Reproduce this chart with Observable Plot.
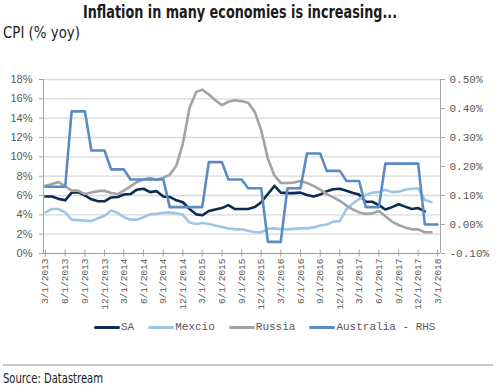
<!DOCTYPE html>
<html><head><meta charset="utf-8">
<script src="https://cdn.jsdelivr.net/npm/d3@7"></script>
<script src="https://cdn.jsdelivr.net/npm/@observablehq/plot@0.6"></script>
<style>
body{margin:0;background:#fff;width:496px;height:388px;position:relative;overflow:hidden;font-family:"Liberation Sans",Arial,sans-serif}
#chart{position:absolute;left:0;top:0}
.fit{position:absolute;white-space:nowrap;transform-origin:0 0;z-index:2;color:#1c1c1c}
#title{top:1px;font:bold 18px "Liberation Sans Narrow","DejaVu Sans Condensed",sans-serif}
#ylab{left:3px;top:24px;font:15.5px "Liberation Sans Narrow","DejaVu Sans Condensed",sans-serif}
#legend{position:absolute;left:94px;top:321px;display:flex;font:11px "Liberation Mono","DejaVu Sans Mono",monospace;color:#595959;z-index:2}
.item{display:flex;align-items:center;margin-right:14px}
.sw{width:26px;height:3px;border-radius:2px;margin-right:1px}
#sep{position:absolute;left:3px;width:490px;top:364px;height:0;border-top:2px solid #c8c8c8}
#source{left:3px;top:370px;font:14.5px "Liberation Sans Narrow","DejaVu Sans Condensed",sans-serif}
</style></head>
<body>
<div id="title" class="fit">Inflation in many economies is increasing...</div>
<div id="ylab" class="fit">CPI (% yoy)</div>
<div id="chart"></div>
<div id="legend"></div>
<div id="sep"></div>
<div id="source" class="fit">Source: Datastream</div>
<script>
// Monthly observations, starting March 2013
const startMonth = "3/1/2013";
const seriesNames = ["SA", "Mexcio", "Russia", "Australia - RHS"];
const colors = ["#0b2b52", "#9fc5e8", "#a3a3a3", "#5b8bc6"];

const sa = [5.9,5.9,5.65,5.5,6.3,6.35,6.0,5.6,5.4,5.4,
  5.8,5.85,6.1,6.15,6.6,6.7,6.35,6.45,5.9,5.85,
  5.5,5.3,4.6,4.05,3.95,4.4,4.55,4.7,5.0,4.6,
  4.6,4.6,4.8,5.3,6.15,7.0,6.3,6.25,6.25,6.3,
  6.05,5.9,6.1,6.45,6.65,6.7,6.5,6.25,6.1,5.35,
  5.35,5.0,4.55,4.8,5.1,4.85,4.6,4.7,4.35];
const mexico = [4.25,4.6,4.6,4.25,3.5,3.45,3.4,3.35,3.65,3.9,
  4.45,4.2,3.75,3.5,3.5,3.75,4.05,4.1,4.2,4.25,
  4.15,4.0,3.2,3.05,3.15,3.05,2.9,2.75,2.6,2.5,
  2.5,2.35,2.2,2.2,2.55,2.6,2.5,2.5,2.55,2.6,
  2.6,2.7,2.9,3.0,3.3,3.35,4.6,5.2,5.65,6.05,
  6.3,6.35,6.6,6.35,6.4,6.6,6.7,6.75,5.55,5.3];
const russia = [7.0,7.2,7.4,6.95,6.5,6.5,6.15,6.3,6.45,6.5,
  6.25,6.15,6.5,6.95,7.4,7.65,7.8,7.6,7.85,8.15,
  9.1,11.35,15.05,16.7,16.95,16.45,15.85,15.35,15.7,15.85,
  15.75,15.6,14.65,12.75,9.8,8.05,7.3,7.3,7.35,7.5,
  7.3,7.0,6.6,6.15,5.8,5.45,4.95,4.55,4.25,4.1,
  4.15,4.4,3.85,3.3,2.95,2.7,2.5,2.5,2.2,2.2];
// right-hand scale (%)
const australia = [0.13,0.13,0.13,0.13,0.39,0.39,0.39,0.255,0.255,0.255,
  0.19,0.19,0.19,0.155,0.155,0.155,0.155,0.155,0.155,0.06,
  0.06,0.06,0.06,0.06,0.06,0.215,0.215,0.215,0.155,0.155,
  0.155,0.125,0.125,0.125,-0.06,-0.06,-0.06,0.125,0.125,0.125,
  0.245,0.245,0.245,0.185,0.185,0.185,0.15,0.15,0.15,0.06,
  0.06,0.06,0.21,0.21,0.21,0.21,0.21,0.21,0.0,0.0,0.0];

const xTickLabels = ["3/1/2013","6/1/2013","9/1/2013","12/1/2013","3/1/2014","6/1/2014","9/1/2014","12/1/2014",
  "3/1/2015","6/1/2015","9/1/2015","12/1/2015","3/1/2016","6/1/2016","9/1/2016","12/1/2016",
  "3/1/2017","6/1/2017","9/1/2017","12/1/2017","3/1/2018"];
const leftTicks = [0,2,4,6,8,10,12,14,16,18];
const leftLabels = ["0%","2%","4%","6%","8%","10%","12%","14%","16%","18%"];
const rightTicks = [-0.1,0,0.1,0.2,0.3,0.4,0.5];
const rightLabels = ["-0.10%","0.00%","0.10%","0.20%","0.30%","0.40%","0.50%"];

const parse = s => { const [m,d,y] = s.split("/").map(Number); return new Date(Date.UTC(y, m-1, d)); };
const t0 = parse(startMonth);
const monthAt = i => new Date(Date.UTC(t0.getUTCFullYear(), t0.getUTCMonth() + i, 1));
// right axis (-0.1..0.5) mapped onto left axis (0..18)
const toLeft = v => (v - rightTicks[0]) / (rightTicks[rightTicks.length-1] - rightTicks[0]) * 18;

const rows = [];
[sa, mexico, russia].forEach((arr, k) => arr.forEach((v, i) => rows.push({date: monthAt(i), value: v, series: seriesNames[k]})));
australia.forEach((v, i) => rows.push({date: monthAt(i), value: toLeft(v), series: seriesNames[3]}));

const xTicks = xTickLabels.map(parse);
const rightTicksLeft = rightTicks.map(toLeft);
const axisColor = "#a6a6a6";
const labelColor = "#595959";
const xDomain = [new Date(Date.UTC(2013,1,20)), new Date(Date.UTC(2018,2,15))];

const plot = Plot.plot({
  width: 496, height: 310,
  marginLeft: 43, marginRight: 56, marginTop: 79, marginBottom: 57,
  style: {background: "transparent", overflow: "visible"},
  x: {type: "utc", domain: xDomain},
  y: {domain: [0, 18]},
  marks: [
    Plot.gridY(leftTicks, {stroke: "#d9d9d9", strokeOpacity: 1, strokeWidth: 1.3}),
    Plot.ruleY([0], {stroke: axisColor, strokeWidth: 1}),
    Plot.ruleX([xDomain[0]], {stroke: axisColor}),
    Plot.ruleX([xDomain[1]], {stroke: axisColor}),
    Plot.ruleX(xTicks, {y1: -0.35, y2: 0.35, stroke: axisColor}),
    Plot.axisY(leftTicks, {anchor: "left", tickSize: 4, tickPadding: 7, stroke: axisColor,
      tickFormat: d => leftLabels[leftTicks.indexOf(d)], fontSize: 11, fontFamily: "Liberation Sans, Arial, sans-serif", fill: labelColor, label: null}),
    Plot.axisY(rightTicksLeft, {anchor: "right", tickSize: 4, tickPadding: 5, stroke: axisColor,
      tickFormat: d => rightLabels[rightTicksLeft.findIndex(t => Math.abs(t - d) < 1e-6)],
      fontSize: 11, fontFamily: "Liberation Mono, monospace", fill: labelColor, label: null}),
    Plot.axisX(xTicks, {anchor: "bottom", tickSize: 0, tickPadding: 5, tickRotate: -90,
      tickFormat: d => xTickLabels[xTicks.findIndex(t => +t === +d)],
      fontSize: 9.5, fontFamily: "Liberation Mono, monospace", fill: labelColor, label: null}),
    Plot.line(rows, {x: "date", y: "value", z: "series",
      stroke: d => colors[seriesNames.indexOf(d.series)], strokeWidth: 2.6, curve: "linear"})
  ]
});
document.getElementById("chart").appendChild(plot);

const legend = document.getElementById("legend");
seriesNames.forEach((n, i) => {
  const it = document.createElement("div"); it.className = "item";
  const sw = document.createElement("div"); sw.className = "sw"; sw.style.background = colors[i];
  const tx = document.createElement("span"); tx.textContent = n;
  it.appendChild(sw); it.appendChild(tx); legend.appendChild(it);
});

// fit condensed text to the reference widths
function fit(id, left, width) {
  const el = document.getElementById(id);
  const w = el.getBoundingClientRect().width;
  const s = width / w;
  el.style.left = left + "px";
  el.style.transform = `scaleX(${s})`;
}
fit("title", 83, 314);
fit("ylab", 3, 77);
fit("source", 3, 100);
</script>
</body></html>
